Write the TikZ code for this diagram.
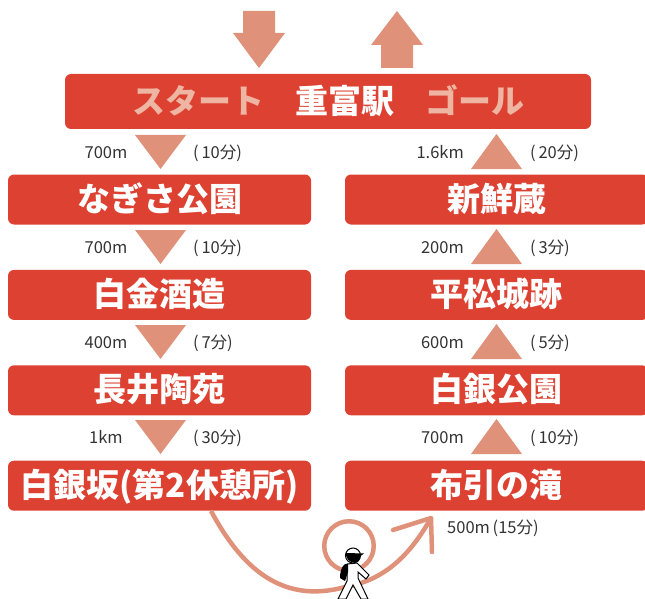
\documentclass[tikz,border=0pt]{standalone}
\usepackage{fontspec}
\usepackage{xcolor}
\usetikzlibrary{positioning}
\setmainfont{Noto Sans CJK JP}[BoldFont={Noto Sans CJK JP Black}]
\definecolor{boxred}{HTML}{DD4132}
\definecolor{arrowsalmon}{HTML}{E0917A}
\definecolor{startpink}{HTML}{EDB5A2}
\begin{document}
\begin{tikzpicture}[
				x=1pt, y=-1pt,
				spotnode/.style={rectangle, rounded corners=6pt, fill=boxred, text=white, font=\bfseries\fontsize{33}{33}\selectfont, text height=28pt, text depth=5pt, minimum width=303pt, minimum height=50pt, inner sep=0pt},
				timenode/.style={font=\fontsize{16.5}{17}\selectfont, text=black!80, text height=13pt, text depth=1pt, inner sep=0pt},
				node distance = 45pt,
				]
				\useasboundingbox (0,0) rectangle (645,599);
				%Nodes
				\node[spotnode, minimum width=526pt, minimum height=55pt, text depth=3pt](station) at (328,101.5){\textcolor{startpink}{スタート}\hspace{31pt}重富駅\hspace{31pt}\textcolor{startpink}{ゴール}\hspace{7pt}};
				\node[spotnode](nagisa) at (159.5,199.5){なぎさ公園};
				\node[spotnode](shirokane)[below=of nagisa]{白金酒造};
				\node[spotnode](nagai)[below=of shirokane]{長井陶苑};
				\node[spotnode](saka)[below=of nagai]{白銀坂(第2休憩所)};
				\node[spotnode](shinsen) at (496.5,199.5){新鮮蔵};
				\node[spotnode](heimatsu)[below=of shinsen]{平松城跡};
				\node[spotnode](koen)[below=of heimatsu]{白銀公園};
				\node[spotnode](taki)[below=of koen]{布引の滝};
				
				%Labels
				\foreach \i/\y/\dist/\mins in {a/152/700m/10, b/247/700m/10, c/342/400m/7, d/437/1km/30}{
					\node[timenode] (dist\i) at (106,\y) {\dist};
					\node[timenode, anchor=west] (time\i) at (193,\y) {(\,\mins 分)};
				}
				\foreach \i/\y/\dist/\mins in {e/152/1.6km/20, f/247/200m/3, g/342/600m/5, h/437/700m/10}{
					\node[timenode, anchor=east] (dist\i) at (464,\y) {\dist};
					\node[timenode, anchor=west] (time\i) at (530,\y) {(\,\mins 分)};
				}
				\node[timenode, anchor=west] (lastdist) at (447,527) {500m\,(15分)};
				
				%Arrows
				\foreach \y in {135,230,325,420}
					\fill[arrowsalmon] (135,\y) -- (186,\y) -- (160.5,\y+34) -- cycle;
				\foreach \y in {169,264,359,454}
					\fill[arrowsalmon] (471,\y) -- (522,\y) -- (496.5,\y-35) -- cycle;
				\fill[arrowsalmon] (243,11) -- (275,11) -- (275,33) -- (285,33) -- (259,68) -- (233,33) -- (243,33) -- cycle;
				\fill[arrowsalmon] (381,68) -- (413,68) -- (413,45) -- (423,45) -- (397,11) -- (371,45) -- (381,45) -- cycle;
				
				%Route
				\coordinate (routeend) at (431,518);
				\coordinate (routestart) at (saka.south -| 211,0);
				\node[circle, draw=arrowsalmon, line width=4.5pt, minimum size=49.5pt, inner sep=0pt] (ring) at (349,546) {};
				\draw[arrowsalmon, line width=4.5pt] (routestart) .. controls (240,565) and (280,605) .. (345,587) .. controls (385,580) and (410,555) .. (routeend);
				\draw[arrowsalmon, line width=4.5pt, line cap=round, line join=round] (393,530) -- (routeend) -- (432,552);
				
				%Walker
				\draw[fill=white, line width=1pt] (347,564) -- (357,563) -- (369,575) -- (366,579) -- (358,572) -- (358,578) -- (368,599) -- (361,599) -- (353,585) -- (346,599) -- (338,599) -- (347,581) -- cycle;
				\fill[black] (345,564) .. controls (341,567) and (340,573) .. (340,578) -- (345,581) -- (348,572) -- (348,564) -- cycle;
				\draw[fill=white, line width=1pt] (353,555.5) circle (7.5);
				\fill[black] (345.5,553) -- (364,553.5) -- (360.5,556) .. controls (359,565) and (347,565) .. (345.5,553) -- cycle;
				
			\end{tikzpicture}
\end{document}
